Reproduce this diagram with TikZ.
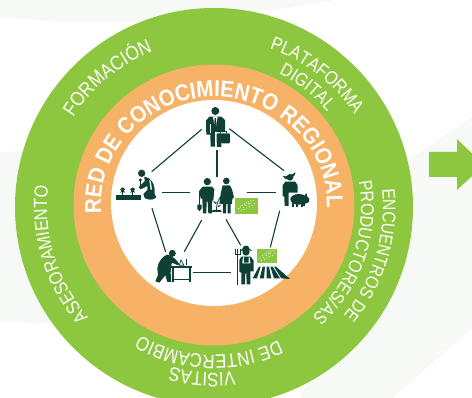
\documentclass[tikz,border=0pt]{standalone}
\usepackage{fontspec}
\setmainfont{Liberation Sans}
\newfontfamily\ringfont[FakeStretch=0.86]{Liberation Sans}
\newfontfamily\redfont[FakeStretch=0.89]{Liberation Sans Bold}
\usetikzlibrary{decorations.text}
\definecolor{ringgreen}{HTML}{8DC63F}
\definecolor{ringorange}{HTML}{F6B266}
\definecolor{ink}{HTML}{0E4035}
\definecolor{wash}{HTML}{F6F9F6}
\tikzset{
  x=1pt,y=1pt,
  link/.style={draw=ink,line width=1.1pt},
  labelbox/.style={fill=ringgreen,draw=none},
  % icon coordinates are 3x pixels of the crop that starts at (110,100)
  icon/.style={shift={(110,-100)},x=0.3333pt,y=-0.3333pt},
}
% #1 font size, #2 radius, #3 middle angle, #4 half span, #5 text
\newcommand{\ringtext}[5]{%
  \path[decorate,decoration={text along path,text align=center,
    text={|\ringfont\fontsize{#1}{#1}\selectfont\color{white}|#5}}]
    (214,-207) ++(#3+#4:#2) arc[start angle=#3+#4,end angle=#3-#4,radius=#2];}
% leaf-label marks
\newcommand{\euleaf}[2]{%
  \foreach \a/\b in {-24/8,-19/3,-13/-2,-6/-6,0/-9,6/-12,12/-15,20/-16,-16/13,-8/10,0/6,8/2,16/-2,24/-8,-2/-2,6/-6,-10/4,10/-8}
    \fill[white] (#1+\a,#2+\b) circle[radius=1.7];}
\begin{document}
\begin{tikzpicture}
\useasboundingbox (0,-398) rectangle (472,0);
\clip (0,-398) rectangle (472,0);
\fill[white] (0,-398) rectangle (472,0);
% faint background washes
\fill[wash] (0,0) -- (0,-16) .. controls (60,-26) and (200,-26) .. (335,0) -- cycle;
\fill[wash] (0,-152) -- (60,-150) -- (100,-320) .. controls (70,-324) and (30,-325) .. (0,-320) -- cycle;
\fill[wash] (472,-118) -- (405,-162) -- (300,-398) -- (392,-398) -- (472,-328) -- cycle;
\fill[wash] (472,-118) -- (405,-162) -- (380,-300) -- (472,-300) -- cycle;
% rings
\fill[ringgreen] (214,-207) circle[radius=199];
\fill[ringorange] (214,-205) circle[radius=140.5];
\fill[white] (214,-203) circle[radius=103];
% arrow
\fill[ringgreen] (429,-152) -- (457,-152) -- (457,-139) -- (484,-165) -- (457,-190) -- (457,-177) -- (429,-177) -- cycle;
% curved labels
\path[decorate,decoration={text along path,text align=center,
    text={|\redfont\fontsize{23}{23}\selectfont\color{white}|RED DE CONOCIMIENTO REGIONAL}}]
    (214,-205) ++(195:113 and 108) arc[start angle=195,end angle=-12,x radius=113,y radius=108];
\ringtext{20}{167}{129.5}{30}{FORMACIÓN}
\ringtext{18.8}{168}{52}{30}{PLATAFORMA}
\ringtext{18.5}{148}{52}{30}{DIGITAL}
\ringtext{18.2}{169}{-17}{40}{ENCUENTROS DE}
\ringtext{18.5}{147}{-19}{40}{PRODUCTORES/AS}
\ringtext{19.5}{148}{-92}{45}{DE INTERCAMBIO}
\ringtext{19.5}{166}{-94}{30}{VISITAS}
\ringtext{18.8}{167}{197}{35}{ASESORAMIENTO}
% connector ends
\coordinate (top-a) at (201.7,-129.3);
\coordinate (top-b) at (229.3,-128.7);
\coordinate (top-c) at (217,-150);
\coordinate (left-a) at (151.7,-171.7);
\coordinate (left-b) at (161.7,-192.7);
\coordinate (left-c) at (152,-208.3);
\coordinate (right-a) at (284,-170.7);
\coordinate (right-b) at (275.7,-192.7);
\coordinate (right-c) at (279.7,-210.7);
\coordinate (mid-t) at (217,-177.3);
\coordinate (mid-l) at (190,-192.7);
\coordinate (mid-r) at (246.7,-192.7);
\coordinate (mid-sw) at (201.7,-220);
\coordinate (mid-se) at (226,-219.3);
\coordinate (lab-a) at (165.7,-252);
\coordinate (lab-b) at (184.3,-251.7);
\coordinate (lab-c) at (192.7,-272.7);
\coordinate (farm-a) at (240.7,-245.3);
\coordinate (farm-b) at (270.3,-247.3);
\coordinate (farm-c) at (230.7,-272.7);
\draw[link] (top-a) -- (left-a);
\draw[link] (top-b) -- (right-a);
\draw[link] (top-c) -- (mid-t);
\draw[link] (left-b) -- (mid-l);
\draw[link] (mid-r) -- (right-b);
\draw[link] (left-c) -- (lab-a);
\draw[link] (mid-sw) -- (lab-b);
\draw[link] (mid-se) -- (farm-a);
\draw[link] (right-c) -- (farm-b);
\draw[link] (lab-c) -- (farm-c);
% pictograms
\begin{scope}[icon]
  % businessman
  \fill[ink] (316,33) circle[radius=12];
  \fill[ink] (298,50) -- (334,50) -- (345,60) -- (346,102) -- (334,102) -- (334,140) -- (321,140) -- (319,108) -- (316,108) -- (315,140) -- (302,140) -- (301,104) -- (289,104) -- (288,62) -- cycle;
  \fill[white] (309,50) -- (323,50) -- (318,82) -- (314,82) -- cycle;
  \fill[ink] (314,54) -- (318,54) -- (320,84) -- (316,92) -- (312,84) -- cycle;
  \fill[white] (300,72) -- (302,72) -- (302,100) -- (300,100) -- cycle;
  \fill[white] (316,96) rectangle (362,133);
  \fill[ink,rounded corners=1pt] (320,100) rectangle (360,130);
  \draw[ink,line width=0.7pt] (332,100) -- (332,94) -- (348,94) -- (348,100);
  \fill[ink] (322,104) -- (334,104) -- (334,140) -- (322,140) -- cycle;
  % gardener
  \fill[ink] (95,220) circle[radius=11];
  \fill[ink] (103,230) .. controls (122,232) and (136,250) .. (134,282) -- (139,292) .. controls (130,302) and (112,300) .. (104,294) -- (100,282) -- (112,270) -- (112,258) -- (92,268) -- (86,262) -- (104,244) -- cycle;
  \fill[white] (118,240) -- (122,243) -- (126,268) -- (122,270) -- cycle;
  \fill[ink] (18,285) rectangle (92,300);
  \foreach \px in {38,68} {
    \draw[ink,line width=0.8pt] (\px,285) -- (\px,268);
    \fill[ink] (\px,262) -- (\px+8,268) -- (\px+3,272) -- (\px+8,278) -- (\px,276) -- (\px-8,278) -- (\px-3,272) -- (\px-8,268) -- cycle;
  }
  \fill[ink] (91,240) circle[radius=5];
  \draw[ink,line width=0.8pt] (91,240) -- (91,262);
  % couple
  \fill[ink] (292,245) circle[radius=11];
  \fill[ink] (278,260) -- (306,260) -- (313,268) -- (310,302) -- (306,302) -- (306,340) -- (295,340) -- (293,305) -- (290,305) -- (289,340) -- (279,340) -- (277,296) -- (272,296) -- (268,272) -- cycle;
  \draw[ink,line width=0.8pt] (268,272) -- (268,318);
  \fill[ink] (262,314) -- (275,314) -- (275,326) -- (268,334) -- (262,326) -- cycle;
  \fill[ink] (349,243) circle[radius=10];
  \fill[ink] (338,256) -- (360,256) -- (366,268) -- (372,292) -- (367,296) -- (366,312) -- (362,312) -- (362,340) -- (353,340) -- (353,312) -- (349,312) -- (348,340) -- (339,340) -- (339,312) -- (328,312) -- (332,282) -- cycle;
  \draw[ink,line width=0.8pt] (320,335) .. controls (318,320) and (322,305) .. (330,292);
  \fill[ink] (308,330) -- (332,330) -- (335,336) -- (305,336) -- cycle;
  \fill[ink] (318,312) -- (308,304) -- (320,306) -- cycle;
  \fill[ink] (322,318) -- (334,314) -- (326,322) -- cycle;
  \fill[labelbox] (376,294) rectangle (444,342);
  \euleaf{410}{318}
  % farmer with pig
  \fill[ink] (540,232) circle[radius=10];
  \fill[ink] (518,228) .. controls (530,232) and (545,224) .. (557,217) .. controls (556,226) and (550,230) .. (548,232) -- (528,238) -- cycle;
  \fill[ink] (526,245) -- (556,245) -- (563,256) -- (563,290) -- (556,290) -- (556,318) -- (542,318) -- (541,292) -- (538,292) -- (537,318) -- (524,318) -- (523,290) -- (518,288) -- (518,256) -- cycle;
  \fill[white] (536,278) -- (590,278) -- (604,300) -- (590,324) -- (536,324) -- cycle;
  \fill[ink] (566,298) ellipse[x radius=25,y radius=16];
  \fill[ink] (584,286) -- (590,280) -- (592,290) -- (598,296) -- (597,306) -- (584,312) -- cycle;
  \fill[ink] (546,306) rectangle (553,320);
  \fill[ink] (558,306) rectangle (565,320);
  \fill[ink] (572,306) rectangle (579,320);
  \fill[ink] (580,306) rectangle (586,318);
  % scientist
  \fill[ink] (187,460) circle[radius=10.5];
  \fill[ink] (172,464) .. controls (186,466) and (198,478) .. (208,492) -- (204,496) -- (186,488) -- (183,500) -- (182,520) -- (184,546) -- (172,546) -- (166,526) -- (148,548) -- (136,544) -- (144,525) -- (142,505) .. controls (144,485) and (158,468) .. (172,464) -- cycle;
  \fill[ink] (184,498) rectangle (245,504);
  \fill[ink] (187,504) rectangle (191,546);
  \fill[ink] (238,504) rectangle (242,546);
  \fill[ink] (187,538) rectangle (242,541);
  \draw[ink,line width=0.7pt] (213,480) -- (208,496) -- (222,496) -- cycle;
  \draw[ink,line width=0.7pt] (228,478) -- (228,496);
  % field farmer
  \fill[ink] (408,456) circle[radius=11];
  \fill[ink] (391,453) -- (398,445) -- (402,438) -- (414,438) -- (419,447) -- (428,453) -- (410,450) -- cycle;
  \fill[ink] (394,470) -- (422,470) -- (431,482) -- (431,514) -- (421,514) -- (421,553) -- (410,553) -- (409,520) -- (406,520) -- (405,553) -- (394,553) -- (394,518) -- (388,516) -- (388,480) -- cycle;
  \fill[white] (397,488) -- (399,472) -- (402,472) -- (402,488) -- (416,488) -- (416,472) -- (419,472) -- (421,488) -- (421,490) -- (397,490) -- cycle;
  \fill[ink] (380,470) rectangle (385,555);
  \draw[ink,line width=0.8pt] (376,447) -- (376,464) -- (390,464) -- (390,447);
  \draw[ink,line width=0.8pt] (383,447) -- (383,470);
  \fill[ink] (428,535) -- (447,500) -- (452,500) -- (441,535) -- cycle;
  \fill[ink] (449,535) -- (458,500) -- (465,500) -- (462,535) -- cycle;
  \fill[ink] (470,535) -- (470,500) -- (477,500) -- (484,535) -- cycle;
  \fill[ink] (492,535) -- (481,500) -- (488,500) -- (510,535) -- cycle;
  \fill[ink] (514,535) -- (492,500) -- (498,500) -- (540,537) -- cycle;
  \fill[labelbox] (441,447) rectangle (501,489);
  \euleaf{471}{468}
\end{scope}
\end{tikzpicture}
\end{document}
